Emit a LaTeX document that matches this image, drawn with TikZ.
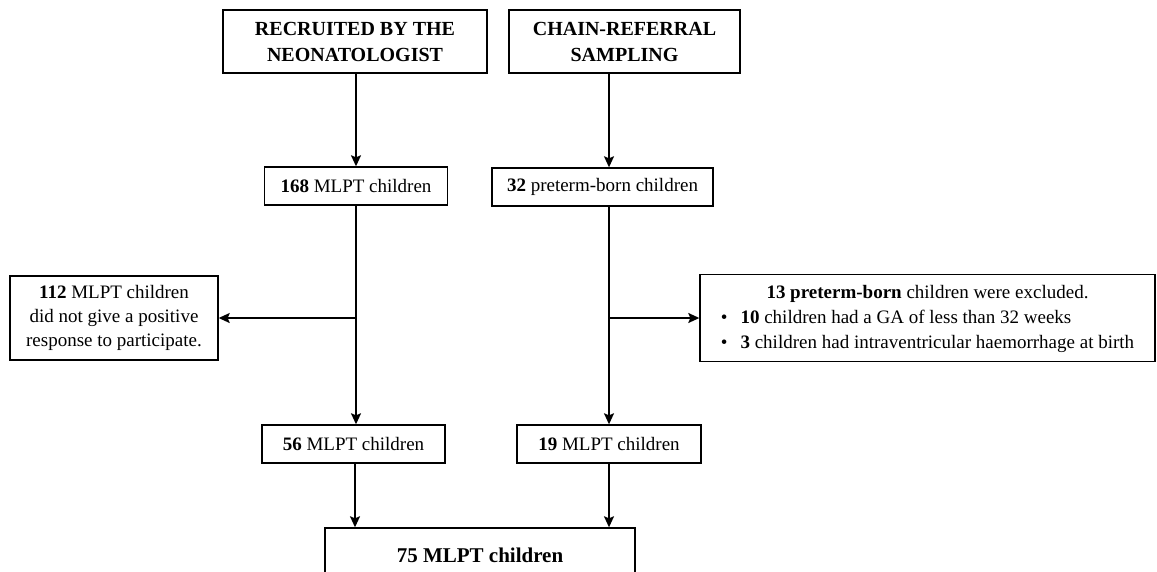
\documentclass[tikz,border=0pt]{standalone}
\usepackage{fontspec}
\setmainfont{Liberation Serif}
\usetikzlibrary{arrows.meta, positioning}

\begin{document}
\begin{tikzpicture}[x=1pt, y=-1pt]
		\tikzset {>={Stealth[length=11pt, width=10pt, inset=2pt]}, box/.style={draw, line width=1.4pt, align=center, inner sep=0pt, font=\fontsize{19}{24}\selectfont}, flow/.style={->, line width=1.6pt}}

		\useasboundingbox (0,0) rectangle (1157,571);
		\clip (0,0) rectangle (1157,571);

		\node[box, minimum width=264pt, minimum height=63pt, font=\fontsize{20}{26}\selectfont\bfseries] (rec) at (355,41.5) {RECRUITED BY THE\\NEONATOLOGIST};
		\node[box, minimum width=231pt, minimum height=63pt, font=\fontsize{20}{26}\selectfont\bfseries] (chain) at (624.5,41.5) {CHAIN-REFERRAL\\SAMPLING};
		\node[box, minimum width=183pt, minimum height=38pt] (n168) at (356,186) {\textbf{168} MLPT children};
		\node[box, minimum width=221pt, minimum height=38pt] (n32) at (602.5,187) {\textbf{32} preterm-born children};
		\node[box, minimum width=208pt, minimum height=84pt] (lost) at (114,318) {\textbf{112} MLPT children\\did not give a positive\\response to participate.};
		\node[box, minimum width=455pt, minimum height=87pt, font=\fontsize{19}{25}\selectfont] (excl) at (927.5,318) {\begin{tabular}{@{}c@{\hspace{13pt}}l@{}}
			\multicolumn{2}{c}{\textbf{13 preterm-born} children were excluded.}\\
			\textbullet & \textbf{10} children had a GA of less than 32 weeks\\
			\textbullet & \textbf{3} children had intraventricular haemorrhage at birth
			\end{tabular}};
		\node[box, minimum width=183pt, minimum height=38pt] (n56) at (353.5,444) {\textbf{56} MLPT children};
		\node[box, minimum width=184pt, minimum height=38pt] (n19) at (609,444) {\textbf{19} MLPT children};
		\node[box, minimum width=310pt, minimum height=64pt, font=\fontsize{21}{26}\selectfont\bfseries] (total) at (480,560) {\raisebox{10pt}{75 MLPT children}};

		\path[flow]
			(rec.south -| n168.north) edge (n168.north)
			(chain.south -| n19.north) edge (n32.north -| n19.north)
			(n168.south) edge (n56.north -| n168.south)
			(n32.south -| n19.north) edge (n19.north)
			(n168.south |- lost.east) edge (lost.east)
			(n19.north |- excl.west) edge (excl.west)
			(n56.south -| rec.south) edge (total.north -| rec.south)
			(n19.south) edge (total.north -| n19.south);
	\end{tikzpicture}
\end{document}
